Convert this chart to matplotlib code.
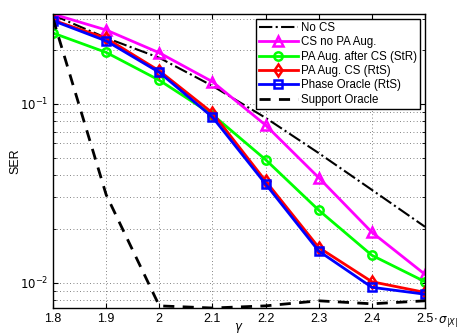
import numpy as np
import matplotlib
matplotlib.use("Agg")
import matplotlib.pyplot as plt

# SER vs threshold gamma, one series per method
gamma = [1.8, 1.9, 2.0, 2.1, 2.2, 2.3, 2.4, 2.5]
xtick_labels = ["1.8", "1.9", "2", "2.1", "2.2", "2.3", "2.4", "2.5"]

no_cs = [0.314, 0.234, 0.181, 0.126, 0.0835, 0.053, 0.033, 0.0205]
cs_no_pa = [0.318, 0.259, 0.193, 0.133, 0.076, 0.0386, 0.0191, 0.0111]
pa_after_cs = [0.249, 0.194, 0.1355, 0.087, 0.0487, 0.0254, 0.0142, 0.0101]
pa_aug_cs = [0.294, 0.233, 0.153, 0.089, 0.037, 0.0157, 0.0101, 0.0088]
phase_oracle = [0.292, 0.225, 0.150, 0.0843, 0.0356, 0.0150, 0.0094, 0.0086]
support_oracle = [0.30, 0.031, 0.0074, 0.0072, 0.0074, 0.0079, 0.0076, 0.0079]

labels = ["No CS", "CS no PA Aug.", "PA Aug. after CS (StR)",
          "PA Aug. CS (RtS)", "Phase Oracle (RtS)", "Support Oracle"]


def main():
    plt.rcParams["font.family"] = ["Liberation Sans", "DejaVu Sans"]
    plt.rcParams["mathtext.fontset"] = "dejavusans"

    fig = plt.figure(figsize=(4.59, 3.35), dpi=100)
    ax = fig.add_axes([0.1155, 0.0806, 0.8105, 0.8774])

    ax.semilogy(gamma, no_cs, color="k", linestyle="-.", linewidth=1.5, label=labels[0])
    ax.semilogy(gamma, cs_no_pa, color="#ff00ff", marker="^", markersize=7,
                markerfacecolor="none", markeredgewidth=1.8, linewidth=2, label=labels[1])
    ax.semilogy(gamma, pa_after_cs, color="#00ff00", marker="o", markersize=6,
                markerfacecolor="none", markeredgewidth=1.8, linewidth=2, label=labels[2])
    ax.semilogy(gamma, pa_aug_cs, color="#ff0000", marker="d", markersize=6,
                markerfacecolor="none", markeredgewidth=1.8, linewidth=2, label=labels[3])
    ax.semilogy(gamma, phase_oracle, color="#0000ff", marker="s", markersize=6,
                markerfacecolor="none", markeredgewidth=1.8, linewidth=2, label=labels[4])
    ax.semilogy(gamma, support_oracle, color="k", linestyle=(0, (4, 3)), linewidth=2,
                label=labels[5])

    ax.set_xlim(1.8, 2.5)
    ax.set_ylim(0.0072, 0.318)
    ax.set_xticks(gamma)
    ax.set_xticklabels(xtick_labels)
    ax.set_yticks([1e-2, 1e-1])
    ax.set_yticklabels([r"$10^{-2}$", r"$10^{-1}$"])

    ax.tick_params(which="both", direction="in", top=True, right=True, labelsize=9)
    ax.tick_params(axis="y", labelsize=8.5)
    ax.tick_params(which="minor", labelleft=False)
    ax.grid(True, which="both", linestyle=(0, (1, 3)), color="0.35", linewidth=0.6)
    for s in ax.spines.values():
        s.set_linewidth(1.0)

    ax.set_ylabel("SER", fontsize=9)
    ax.yaxis.set_label_coords(-0.085, 0.5)
    ax.set_xlabel(r"$\gamma$", fontsize=8.5, labelpad=-3)
    ax.annotate(r"$\cdot\,\sigma_{|X|}$", xy=(2.5, 0), xycoords=("data", "axes fraction"),
                xytext=(6, -10), textcoords="offset points", ha="left", va="center",
                fontsize=8.5, annotation_clip=False)

    leg = ax.legend(loc="upper right", fontsize=8.3, handlelength=3.3, handletextpad=0.3,
                    labelspacing=0.2, borderpad=0.3, fancybox=False, framealpha=1,
                    borderaxespad=0.4)
    leg.get_frame().set_edgecolor("k")
    leg.get_frame().set_linewidth(1.0)

    fig.savefig("out.png", dpi=100)


if __name__ == "__main__":
    main()
